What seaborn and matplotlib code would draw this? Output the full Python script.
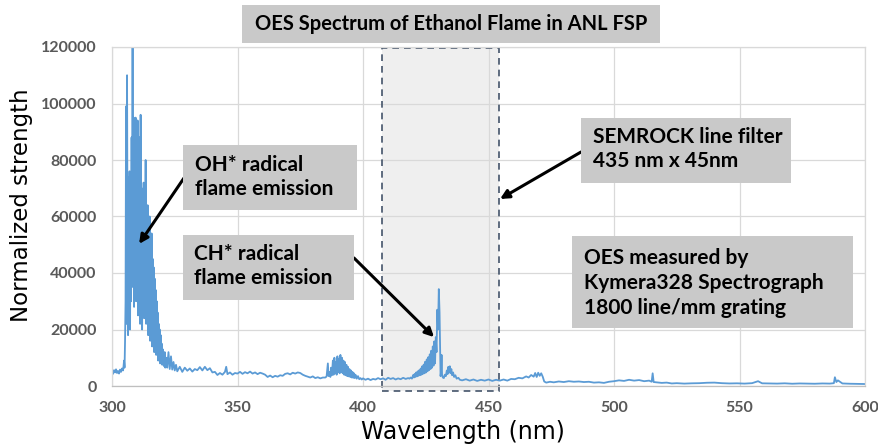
import numpy as np
import pandas as pd
import matplotlib
matplotlib.use("Agg")
import matplotlib.pyplot as plt
import seaborn as sns
from matplotlib.patches import Rectangle

# ---------------- data ----------------
wl_base1 = [300.0, 300.4, 300.8, 301.2, 301.6, 302.0, 302.4, 302.8, 303.2, 303.6, 304.0, 304.4]
val_base1 = [5200, 4300, 5600, 4800, 5900, 4600, 5300, 4400, 5800, 5000, 6200, 5500]

wl_oh = [304.6, 304.8, 305.0, 305.2, 305.4, 305.6, 305.8, 306.0, 306.2, 306.4, 306.6, 306.8,
         307.0, 307.2, 307.4, 307.6, 307.8, 308.0, 308.2, 308.4, 308.6, 308.8, 309.0, 309.2,
         309.4, 309.6, 309.8, 310.0, 310.2, 310.4, 310.6, 310.8, 311.0, 311.2, 311.4, 311.6,
         311.8, 312.0, 312.2, 312.4, 312.6, 312.8, 313.0, 313.2, 313.4, 313.6, 313.8, 314.0,
         314.2, 314.4, 314.6, 314.8, 315.0, 315.2, 315.4, 315.6, 315.8, 316.0, 316.2, 316.4,
         316.6, 316.8, 317.0, 317.2, 317.4, 317.6, 317.8, 318.0, 318.2, 318.4, 318.6, 318.8,
         319.0, 319.2, 319.4, 319.6, 319.8, 320.0, 320.2, 320.4, 320.6, 320.8, 321.0, 321.2,
         321.4, 321.6, 321.8, 322.0]
val_oh = [7000, 9000, 6500, 16000, 30000, 99000, 22000, 110000, 45000, 18000, 74000, 25000,
          76000, 20000, 68000, 30000, 88000, 40000, 120000, 35000, 95000, 28000, 92000, 45000,
          95000, 30000, 90000, 38000, 94000, 25000, 72000, 40000, 88000, 22000, 96000, 35000,
          70000, 20000, 65000, 30000, 72000, 24000, 62000, 38000, 80000, 22000, 58000, 30000,
          64000, 18000, 55000, 26000, 60000, 16000, 50000, 24000, 54000, 14000, 45000, 22000,
          42000, 12000, 38000, 18000, 34000, 11000, 30000, 14000, 26000, 9000, 22000, 12000,
          20000, 8000, 18000, 9500, 15000, 7500, 13000, 8000, 11000, 7000, 12000, 6500,
          9500, 7000, 10000, 6500]

wl_mid = [322.5, 323.0, 323.5, 324.0, 324.5, 325.0, 325.5, 326.0, 327.0, 328.0, 329.0, 330.0,
          331.0, 332.0, 333.0, 334.0, 335.0, 336.0, 337.0, 338.0, 339.0, 340.0, 341.0, 342.0,
          343.0, 344.0, 345.0, 345.5, 346.0, 347.0, 348.0, 349.0, 350.0, 351.0, 352.0, 353.0,
          354.0, 355.0, 356.0, 357.0, 358.0, 359.0, 360.0, 361.0, 362.0, 363.0, 364.0, 365.0,
          366.0, 367.0, 368.0, 369.0, 370.0, 371.0, 372.0, 373.0, 374.0, 375.0, 376.0, 377.0,
          378.0, 379.0, 380.0, 381.0, 382.0, 383.0, 384.0]
val_mid = [12000, 6000, 10500, 5800, 8500, 5500, 7500, 5200, 6800, 5000, 6500, 5400,
           6200, 5100, 6000, 5600, 6700, 5500, 6800, 5600, 6300, 4800, 5000, 3900,
           4600, 4000, 5000, 6800, 4200, 4800, 4000, 4600, 4400, 5000, 4300, 4900,
           4500, 5100, 4400, 4800, 4200, 4700, 4400, 4000, 3200, 3700, 3100, 3600,
           3300, 3800, 3600, 4300, 4500, 4100, 4700, 4400, 4800, 4600, 4000, 3600,
           3300, 3000, 3400, 2800, 3100, 2700, 3000]

wl_cn = [385.0, 385.5, 386.0, 386.3, 386.6, 387.0, 387.3, 387.6, 388.0, 388.3, 388.6, 388.9,
         389.2, 389.5, 389.8, 390.1, 390.4, 390.7, 391.0, 391.3, 391.6, 391.9, 392.2, 392.5,
         392.8, 393.1, 393.4, 393.7, 394.0, 394.3, 394.6, 394.9, 395.2, 395.5, 395.8, 396.1,
         396.4, 396.7, 397.0, 397.5, 398.0, 398.5, 399.0]
val_cn = [3000, 3400, 8000, 3500, 5000, 3200, 6500, 3800, 9000, 4000, 10000, 4500,
          8500, 4000, 10500, 5000, 9500, 4500, 11000, 5000, 10000, 4500, 9000, 4000,
          8500, 3800, 7500, 3500, 6800, 3400, 6000, 3200, 5500, 3000, 5000, 2900,
          4500, 2800, 4000, 2600, 3500, 2400, 2800]

wl_pre = [399.5, 400.0, 401.0, 402.0, 403.0, 404.0, 405.0, 406.0, 407.0, 408.0, 409.0,
          410.0, 411.0, 412.0, 413.0, 414.0, 415.0, 416.0, 417.0, 418.0]
val_pre = [2300, 2700, 2200, 2600, 2100, 2500, 2300, 2800, 2400, 2700, 2200,
           2900, 2500, 2800, 2300, 2700, 2400, 2900, 2500, 2800]

wl_ch = [418.5, 419.0, 419.5, 420.0, 420.3, 420.6, 420.9, 421.2, 421.5, 421.8, 422.1, 422.4,
         422.7, 423.0, 423.3, 423.6, 423.9, 424.2, 424.5, 424.8, 425.1, 425.4, 425.7, 426.0,
         426.3, 426.6, 426.9, 427.2, 427.5, 427.8, 428.1, 428.4, 428.7, 429.0, 429.3, 429.6,
         429.9, 430.2, 430.5, 430.7, 430.9, 431.1, 431.3, 431.5, 431.8, 432.2, 432.6, 433.0,
         433.4, 433.7, 434.0, 434.3, 434.6, 434.9, 435.2, 435.5, 435.9, 436.3, 436.8, 437.3,
         438.0, 438.6]
val_ch = [2600, 3000, 2600, 3900, 3000, 4300, 3200, 4800, 3400, 5200, 3600, 5600,
          3800, 6200, 4000, 7000, 4300, 7600, 4500, 8600, 4800, 9400, 5200, 10200,
          5600, 11200, 6000, 12500, 6500, 14000, 7200, 15800, 8000, 17300, 12000, 27000,
          20000, 34300, 26000, 14000, 3500, 5000, 11000, 4000, 3000, 2800, 4000, 3500,
          5500, 4200, 6800, 4800, 7000, 4500, 6000, 3800, 4800, 3200, 3800, 2600,
          2900, 2200]

wl_tail = [439.5, 441.0, 442.5, 444.0, 445.5, 447.0, 448.5, 450.0, 451.5, 453.0, 454.5,
           456.0, 457.5, 459.0, 460.5, 462.0, 463.5, 465.0, 466.0, 467.0, 468.0, 468.6,
           469.2, 469.8, 470.4, 471.0, 471.6, 472.2, 473.0, 474.5, 476.0, 478.0, 480.0,
           482.0, 484.0, 486.0, 488.0, 490.0, 492.0, 494.0, 496.0, 498.0, 500.0, 502.0,
           504.0, 506.0, 508.0, 510.0, 512.0, 514.0, 515.0, 515.4, 515.8, 517.0, 519.0,
           521.0, 523.0, 525.0, 528.0, 531.0, 534.0, 537.0, 540.0, 543.0, 546.0, 549.0,
           552.0, 555.0, 557.4, 559.0, 562.0, 565.0, 568.0, 571.0, 574.0, 577.0, 580.0,
           583.0, 586.0, 587.6, 588.0, 588.6, 589.2, 591.0, 594.0, 597.0, 600.0]
val_tail = [2000, 2400, 1900, 2300, 1800, 2200, 1900, 2300, 1800, 2200, 1900,
            2300, 1900, 2500, 2400, 2900, 2700, 3400, 3000, 3900, 3300, 4600,
            3200, 4700, 3600, 4500, 3300, 1600, 1200, 1500, 1300, 1600, 1400,
            1700, 1500, 1600, 1400, 1500, 1200, 1300, 1100, 1500, 1700, 2000,
            1800, 2200, 1900, 2100, 1700, 1900, 1500, 4500, 1400, 1300, 1100,
            1200, 900, 1000, 850, 950, 1000, 1150, 1200, 1000, 900, 950,
            850, 1000, 1700, 950, 900, 850, 950, 800, 900, 850, 800,
            900, 850, 1000, 3100, 1400, 2000, 900, 800, 750, 700]

x_ticks = [300, 350, 400, 450, 500, 550, 600]
y_ticks = [0, 20000, 40000, 60000, 80000, 100000, 120000]

title_text = "OES Spectrum of Ethanol Flame in ANL FSP"
oh_text = "OH* radical\nflame emission"
ch_text = "CH* radical\nflame emission"
filter_text = "SEMROCK line filter\n435 nm x 45nm"
oes_text = "OES measured by\nKymera328 Spectrograph\n1800 line/mm grating"
filter_lo, filter_hi = 407.6, 454.2

wl = wl_base1 + wl_oh + wl_mid + wl_cn + wl_pre + wl_ch + wl_tail
val = val_base1 + val_oh + val_mid + val_cn + val_pre + val_ch + val_tail
df = pd.DataFrame({"Wavelength": wl, "Strength": val})

# ---------------- figure ----------------
sns.set_theme(style="white")
W, H = 879, 447
fig = plt.figure(figsize=(W / 100, H / 100), dpi=100)
fig.patch.set_facecolor("white")

def fx(px):
    return px / W

def fy(py):
    return 1 - py / H

ax = fig.add_axes([fx(112), fy(386), fx(865) - fx(112), fy(47) - fy(386)])
ax.set_facecolor("white")

# filter band
ax.add_patch(Rectangle((filter_lo, -1800), filter_hi - filter_lo, 121500,
                       facecolor="#efefef", edgecolor="none", zorder=0.3, clip_on=False))
ax.add_patch(Rectangle((filter_lo, -1800), filter_hi - filter_lo, 121500,
                       facecolor="none", edgecolor="#44546a", ls=(0, (4, 3)), lw=1.2,
                       zorder=2.5, clip_on=False))

sns.lineplot(data=df, x="Wavelength", y="Strength", ax=ax, color="#5b9bd5",
             lw=1.3, estimator=None, sort=False, zorder=2)

ax.set_xlim(300, 600)
ax.set_ylim(0, 120000)
ax.set_xticks(x_ticks)
ax.set_yticks(y_ticks)
ax.set_xticklabels([str(t) for t in x_ticks])
ax.set_yticklabels([str(t) for t in y_ticks])
ax.set_axisbelow(True)
ax.grid(True, color="#d9d9d9", lw=0.9)
for s in ax.spines.values():
    s.set_color("#d9d9d9")
    s.set_linewidth(0.9)
ax.spines["bottom"].set_color("#bfbfbf")
ax.tick_params(axis="x", length=0, pad=11, labelsize=11.5, labelcolor="#595959")
ax.tick_params(axis="y", length=0, pad=11, labelsize=11.5, labelcolor="#595959")
for lab in ax.get_xticklabels() + ax.get_yticklabels():
    lab.set_fontweight("bold")
    lab.set_family("Lato")

ax.set_xlabel("Wavelength (nm)", fontsize=17, color="black", family="DejaVu Sans")
ax.set_ylabel("Normalized strength", fontsize=16.5, color="black", family="DejaVu Sans")
# label positions in axes coords (from reference pixels)
ax.xaxis.set_label_coords((463 - 112) / (865 - 112), (386 - 432) / (386 - 47))
ax.yaxis.set_label_coords((22 - 112) / (865 - 112), (386 - 205) / (386 - 47))
ax.xaxis.label.set_va("center")
ax.yaxis.label.set_va("center")

BOX = "#c9c9c9"

def box(x0, y0, x1, y1, text, tx, ty, size=15, ha="left", ls=1.3):
    fig.add_artist(Rectangle((fx(x0), fy(y1)), fx(x1) - fx(x0), fy(y0) - fy(y1),
                             transform=fig.transFigure, facecolor=BOX, edgecolor="none",
                             zorder=5))
    fig.text(fx(tx), fy(ty), text, ha=ha, va="center", fontsize=size, fontweight="bold",
             family="Lato", color="black", linespacing=ls, zorder=6)

box(242, 5, 660, 43, title_text, 451, 24, size=14.5, ha="center")
box(183, 145, 357, 210, oh_text, 195, 177)
box(183, 235, 354, 300, ch_text, 194, 266)
box(581, 118, 791, 183, filter_text, 593, 149)
box(572, 236, 853, 328, oes_text, 584, 283)

arrow = dict(arrowstyle="-|>", color="black", lw=2.2, mutation_scale=13,
             shrinkA=0, shrinkB=0)
ax.annotate("", xy=(310.8, 50300), xycoords="data", xytext=(fx(184), fy(178)),
            textcoords="figure fraction", arrowprops=arrow, zorder=7)
ax.annotate("", xy=(428.3, 17300), xycoords="data", xytext=(fx(354), fy(258)),
            textcoords="figure fraction", arrowprops=arrow, zorder=7)
ax.annotate("", xy=(454.6, 66200), xycoords="data", xytext=(fx(581), fy(152)),
            textcoords="figure fraction", arrowprops=arrow, zorder=7)

fig.savefig("out.png", dpi=100, facecolor="white")
